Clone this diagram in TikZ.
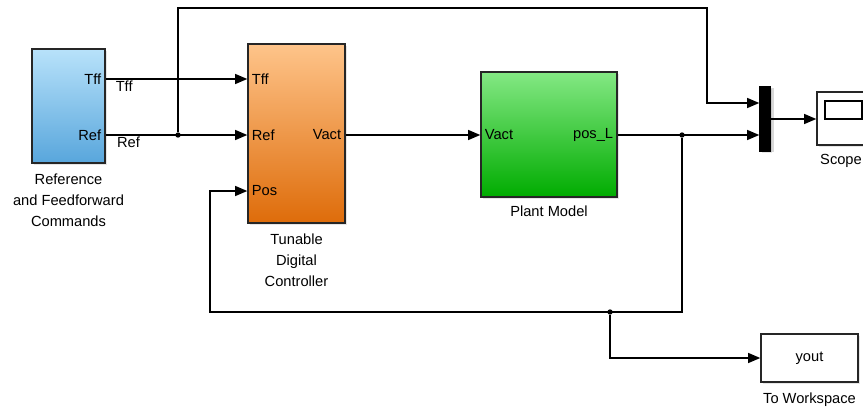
\documentclass[tikz,border=0pt]{standalone}
\usepackage{fontspec}
\setmainfont{Liberation Sans}
\usetikzlibrary{arrows.meta,fit,positioning,shadows}

\definecolor{refTop}{RGB}{184,226,250}
\definecolor{refBot}{RGB}{88,166,220}
\definecolor{ctrlTop}{RGB}{254,196,138}
\definecolor{ctrlBot}{RGB}{222,108,10}
\definecolor{plantTop}{RGB}{132,232,132}
\definecolor{plantBot}{RGB}{0,172,0}

\begin{document}
\begin{tikzpicture}[x=.75pt,y=-.75pt,line width=.8pt,
    block/.style={draw=black!85,line width=1.2pt,inner sep=0pt,
      drop shadow={opacity=.2,shadow xshift=1.5pt,shadow yshift=-1.5pt}},
    sig/.style={-{Triangle[length=9pt,width=7.5pt]}},
    port/.style={font=\fontsize{11}{12}\selectfont,inner sep=1pt},
    txt/.style={font=\fontsize{11}{15.75}\selectfont,align=center,inner sep=0pt},
    dot/.style={circle,fill,inner sep=0pt,minimum size=4pt}]
  \useasboundingbox (0,0) rectangle (863,407);
  \clip (0,0) rectangle (863,407);

  \node[block,top color=refTop,bottom color=refBot,fit={(32,49) (105,163)}] (ref) {};
  \node[block,top color=ctrlTop,bottom color=ctrlBot,fit={(248,44) (345,223)}] (ctrl) {};
  \node[block,top color=plantTop,bottom color=plantBot,fit={(481,72) (617,197)}] (plant) {};
  \node[block,fill=black,draw=black,fit={(760,87) (770,151)},
    drop shadow={opacity=.3,shadow xshift=3pt,shadow yshift=-1pt}] (mux) {};
  \node[block,fill=white,fit={(817,92) (880,145)}] (scope) {};
  \node[block,fill=white,fit={(761,334) (858,382)}] (ws) {};

  \node[port,anchor=east] (rtff) at (103,79) {Tff};
  \node[port,anchor=east] (rref) at (103,135) {Ref};
  \node[port,anchor=west] (ctff) at (250,79) {Tff};
  \node[port,anchor=west] (cref) at (250,135) {Ref};
  \node[port,anchor=west] (cpos) at (250,191) {Pos};
  \node[port,anchor=east] (cvact) at (343,135) {Vact};
  \node[port,anchor=west] (pvact) at (483,135) {Vact};
  \node[port,anchor=east] (ppos) at (615,135) {pos\_L};
  \node[port] (yout) at (ws) {yout};
  \draw[line width=1pt] (825,101) rectangle (862,119);

  \node[txt,below=7pt of ref] (reflbl) {Reference\\and Feedforward\\Commands};
  \node[txt,below=7.5pt of ctrl] (ctrllbl) {Tunable\\Digital\\Controller};
  \node[txt,below=6pt of plant] (plantlbl) {Plant Model};
  \node[txt,anchor=north] (scopelbl) at (841,154) {Scope};
  \node[txt,below=7pt of ws] (wslbl) {To Workspace};

  \node[dot] (j1) at (178,135) {};
  \node[dot] (j2) at (682,135) {};
  \node[dot] (j3) at (610,312) {};

  \draw[sig] (ref.east |- rtff) -- node[port,below,pos=.13] {Tff} (ctrl.west |- ctff);
  \draw[sig] (ref.east |- rref) -- node[port,below,pos=.16] {Ref} (ctrl.west |- cref);
  \draw[sig] (j1) |- (707,8) |- (mux.west |- 0,103);
  \draw[sig] (ctrl.east |- cvact) -- (plant.west |- pvact);
  \draw[sig] (plant.east |- ppos) -- (mux.west |- ppos);
  \draw[sig] (j2) |- (210,312) |- (ctrl.west |- cpos);
  \draw[sig] (j3) |- (ws.west);
  \draw[sig] (mux.east) -- (scope.west |- mux.east);
\end{tikzpicture}
\end{document}
